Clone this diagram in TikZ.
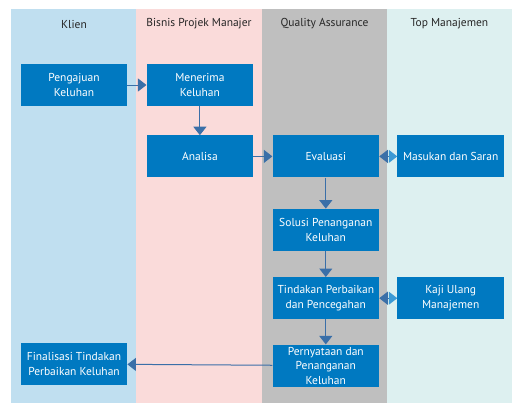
\documentclass[tikz,border=0pt]{standalone}
\usepackage{fontspec}
\setmainfont{PT Sans}
\usepackage{xcolor}
\usetikzlibrary{arrows.meta, positioning}

\definecolor{laneklien}{HTML}{C0DFF0}
\definecolor{lanebpm}{HTML}{FADBDA}
\definecolor{laneqa}{HTML}{BFBFBF}
\definecolor{lanetop}{HTML}{DDF0F0}
\definecolor{boxblue}{HTML}{0079C1}
\definecolor{arrowblue}{HTML}{3A6FA8}
\definecolor{tiplight}{HTML}{3C9AD5}

\begin{document}
\begin{tikzpicture}[
    x=1pt, y=-1pt,
    node distance=29pt and 19pt,
    header/.style={font=\fontsize{11.5}{13}\selectfont, text=black!85},
    proc/.style={rectangle, fill=boxblue, minimum width=106.5pt, minimum height=42pt, inner sep=1pt,
                 font=\fontsize{11.5}{14.5}\selectfont, text=white, align=center},
    arrow/.style={-{Triangle[width=13pt, length=8.5pt]}, line width=1pt, arrowblue},
    twoway/.style={{Triangle[width=13pt, length=8.5pt]}-{Triangle[width=13pt, length=8.5pt, color=tiplight]}, line width=1pt, arrowblue}
]
\useasboundingbox (0,0) rectangle (525,415);

% swimlanes
\fill[laneklien] (11,9) rectangle (136.3,403);
\fill[lanebpm] (136.3,9) rectangle (261.7,403);
\fill[laneqa] (261.7,9) rectangle (387.3,403);
\fill[lanetop] (387.3,9) rectangle (511.7,403);

\node[header] (hklien) at (74,24) {Klien};
\node[header] (hbpm) at (199,24) {Bisnis Projek Manajer};
\node[header] (hqa) at (324.5,24) {Quality Assurance};
\node[header] (htop) at (449.5,24) {Top Manajemen};

% steps
\node[proc] (aju) at (74,85) {Pengajuan\\Keluhan};
\node[proc, right=of aju] (terima) {Menerima\\Keluhan};
\node[proc, below=of terima] (analisa) {Analisa};
\node[proc, right=of analisa] (eval) {Evaluasi};
\node[proc, right=18pt of eval] (saran) {Masukan dan Saran};
\node[proc, below=31pt of eval] (solusi) {Solusi Penanganan\\Keluhan};
\node[proc, below=26pt of solusi] (tindak) {Tindakan Perbaikan\\dan Pencegahan};
\node[proc, right=18pt of tindak] (kaji) {Kaji Ulang\\Manajemen};
\node[proc, below=25pt of tindak] (nyata) {Pernyataan dan\\Penanganan\\Keluhan};
\node[proc, at={(74,364)}] (final) {Finalisasi Tindakan\\Perbaikan Keluhan};

\draw[arrow] (aju) -- (terima);
\draw[arrow] (terima) -- (analisa);
\draw[arrow] (analisa) -- (eval);
\draw[twoway] (eval) -- (saran);
\draw[arrow] (eval) -- (solusi);
\draw[arrow] (solusi) -- (tindak);
\draw[twoway] (tindak) -- (kaji);
\draw[arrow] (tindak) -- (nyata);
\draw[arrow] (nyata) -- (final);
\end{tikzpicture}
\end{document}
